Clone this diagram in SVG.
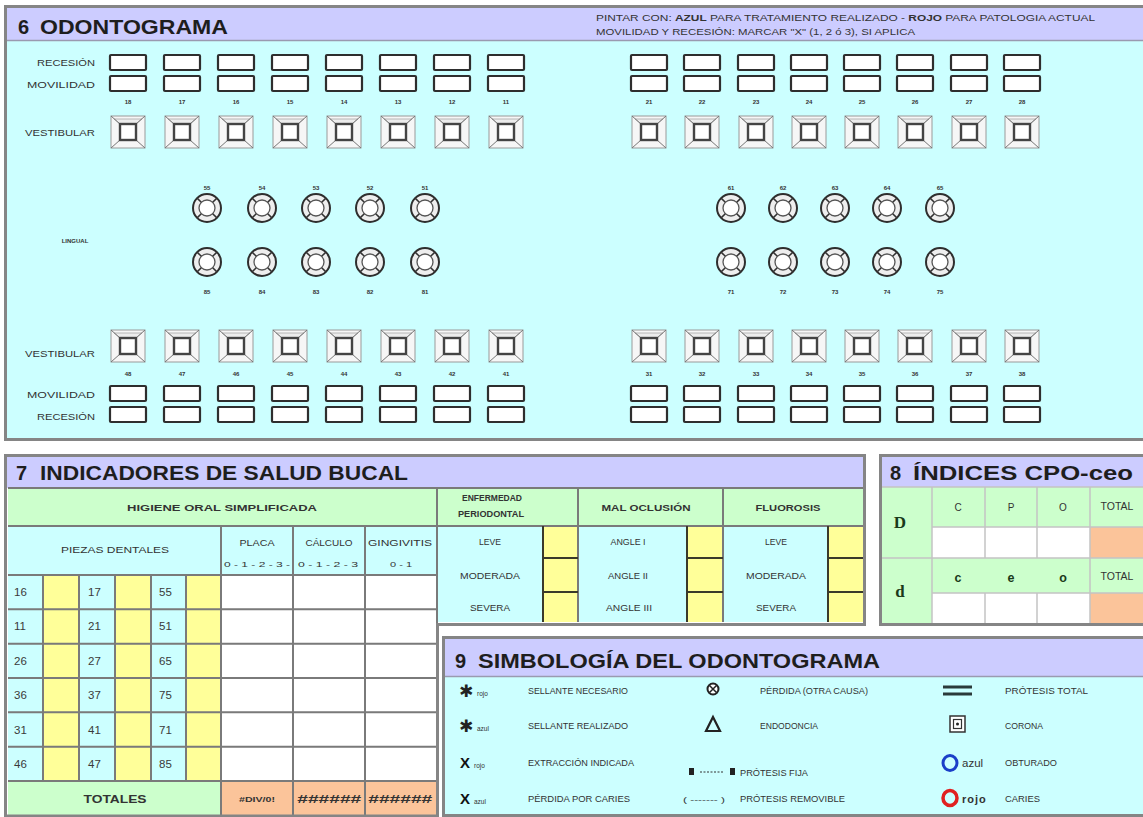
<svg xmlns="http://www.w3.org/2000/svg" xmlns:xlink="http://www.w3.org/1999/xlink" width="1143" height="817" viewBox="0 0 1143 817">
<style>
text{font-family:"Liberation Sans",Arial,sans-serif;fill:#333}
.ttl{font-weight:bold;font-size:20px;fill:#1e1e1e}
.lb{font-size:9.5px}
.tn{font-size:6px;font-weight:bold;text-anchor:middle;fill:#333}
.c{text-anchor:middle}
.r{text-anchor:end}
.b{font-weight:bold}
.num{font-size:11.5px;fill:#3a3a3a}
.gl{stroke:#7a7a7a;stroke-width:2;fill:none}
.dl{stroke:#3a3a2a;stroke-width:2;fill:none}
.ll{stroke:#c4c4c4;stroke-width:1.5;fill:none}
.frame{fill:none;stroke:#858585;stroke-width:3}
</style>
<defs>
<rect id="rb" x="0" y="0" width="36" height="15" rx="1" fill="#fff" stroke="#2e2e2e" stroke-width="2.2"/>
<g id="vt">
<rect x="-17" y="-16" width="34" height="32" fill="#f6f6f6" stroke="#9a9a9a" stroke-width="1"/>
<path d="M-14,-13 H14 L8,-8 H-8 Z" fill="#ececec" stroke="#aaa" stroke-width="0.8"/>
<path d="M-17,-16 L-8,-8 M17,-16 L8,-8 M-17,16 L-8,8 M17,16 L8,8" stroke="#777" stroke-width="1"/>
<rect x="-8" y="-8" width="16" height="16" fill="#fff" stroke="#444" stroke-width="2.4"/>
</g>
<g id="pt">
<circle r="14" fill="#eeeeee" stroke="#2e2e2e" stroke-width="2"/>
<circle r="8" fill="#fff" stroke="#555" stroke-width="1.3"/>
<path d="M5.7,5.7 L9.9,9.9 M-5.7,5.7 L-9.9,9.9 M5.7,-5.7 L9.9,-9.9 M-5.7,-5.7 L-9.9,-9.9" stroke="#333" stroke-width="1.5"/>
</g>
</defs>

<!-- ===== SECTION 6 ===== -->
<g id="sec6">
<rect x="5.5" y="6.5" width="1150" height="433" fill="#ccffff" stroke="#858585" stroke-width="3"/>
<rect x="7" y="8" width="1140" height="32" fill="#ccccff"/>
<line x1="7" y1="40.5" x2="1143" y2="40.5" stroke="#9a9ab0" stroke-width="1.5"/>
<text class="ttl" x="18" y="34" font-size="19">6</text>
<text class="ttl" x="40" y="34" font-size="19" textLength="188" lengthAdjust="spacingAndGlyphs">ODONTOGRAMA</text>
<text x="596" y="21" font-size="8.5" textLength="499" lengthAdjust="spacingAndGlyphs">PINTAR CON: <tspan class="b">AZUL</tspan> PARA  TRATAMIENTO REALIZADO -  <tspan class="b">ROJO</tspan> PARA PATOLOGIA ACTUAL</text>
<text x="596" y="35" font-size="8.5" textLength="319" lengthAdjust="spacingAndGlyphs">MOVILIDAD Y RECESIÓN: MARCAR "X" (1, 2 ó 3), SI APLICA</text>

<text class="lb r" x="95" y="66" textLength="58" lengthAdjust="spacingAndGlyphs">RECESIÓN</text>
<text class="lb r" x="95" y="88" textLength="68" lengthAdjust="spacingAndGlyphs">MOVILIDAD</text>
<text class="lb r" x="95" y="136" textLength="70" lengthAdjust="spacingAndGlyphs">VESTIBULAR</text>
<text class="tn" x="75" y="243" font-size="6.5">LINGUAL</text>
<text class="lb r" x="95" y="357" textLength="70" lengthAdjust="spacingAndGlyphs">VESTIBULAR</text>
<text class="lb r" x="95" y="398" textLength="68" lengthAdjust="spacingAndGlyphs">MOVILIDAD</text>
<text class="lb r" x="95" y="420" textLength="58" lengthAdjust="spacingAndGlyphs">RECESIÓN</text>
</g>

<!-- upper permanent teeth left -->
<g id="t18"><use href="#rb" x="110" y="55"/><use href="#rb" x="110" y="76"/><text class="tn" x="128" y="104">18</text><use href="#vt" x="128" y="132"/></g>
<g id="t17"><use href="#rb" x="164" y="55"/><use href="#rb" x="164" y="76"/><text class="tn" x="182" y="104">17</text><use href="#vt" x="182" y="132"/></g>
<g id="t16"><use href="#rb" x="218" y="55"/><use href="#rb" x="218" y="76"/><text class="tn" x="236" y="104">16</text><use href="#vt" x="236" y="132"/></g>
<g id="t15"><use href="#rb" x="272" y="55"/><use href="#rb" x="272" y="76"/><text class="tn" x="290" y="104">15</text><use href="#vt" x="290" y="132"/></g>
<g id="t14"><use href="#rb" x="326" y="55"/><use href="#rb" x="326" y="76"/><text class="tn" x="344" y="104">14</text><use href="#vt" x="344" y="132"/></g>
<g id="t13"><use href="#rb" x="380" y="55"/><use href="#rb" x="380" y="76"/><text class="tn" x="398" y="104">13</text><use href="#vt" x="398" y="132"/></g>
<g id="t12"><use href="#rb" x="434" y="55"/><use href="#rb" x="434" y="76"/><text class="tn" x="452" y="104">12</text><use href="#vt" x="452" y="132"/></g>
<g id="t11"><use href="#rb" x="488" y="55"/><use href="#rb" x="488" y="76"/><text class="tn" x="506" y="104">11</text><use href="#vt" x="506" y="132"/></g>
<!-- upper permanent teeth right -->
<g id="t21"><use href="#rb" x="631" y="55"/><use href="#rb" x="631" y="76"/><text class="tn" x="649" y="104">21</text><use href="#vt" x="649" y="132"/></g>
<g id="t22"><use href="#rb" x="684" y="55"/><use href="#rb" x="684" y="76"/><text class="tn" x="702" y="104">22</text><use href="#vt" x="702" y="132"/></g>
<g id="t23"><use href="#rb" x="738" y="55"/><use href="#rb" x="738" y="76"/><text class="tn" x="756" y="104">23</text><use href="#vt" x="756" y="132"/></g>
<g id="t24"><use href="#rb" x="791" y="55"/><use href="#rb" x="791" y="76"/><text class="tn" x="809" y="104">24</text><use href="#vt" x="809" y="132"/></g>
<g id="t25"><use href="#rb" x="844" y="55"/><use href="#rb" x="844" y="76"/><text class="tn" x="862" y="104">25</text><use href="#vt" x="862" y="132"/></g>
<g id="t26"><use href="#rb" x="897" y="55"/><use href="#rb" x="897" y="76"/><text class="tn" x="915" y="104">26</text><use href="#vt" x="915" y="132"/></g>
<g id="t27"><use href="#rb" x="951" y="55"/><use href="#rb" x="951" y="76"/><text class="tn" x="969" y="104">27</text><use href="#vt" x="969" y="132"/></g>
<g id="t28"><use href="#rb" x="1004" y="55"/><use href="#rb" x="1004" y="76"/><text class="tn" x="1022" y="104">28</text><use href="#vt" x="1022" y="132"/></g>

<!-- primary teeth -->
<g id="t55"><text class="tn" x="207" y="190">55</text><use href="#pt" x="207" y="208"/></g>
<g id="t54"><text class="tn" x="262" y="190">54</text><use href="#pt" x="262" y="208"/></g>
<g id="t53"><text class="tn" x="316" y="190">53</text><use href="#pt" x="316" y="208"/></g>
<g id="t52"><text class="tn" x="370" y="190">52</text><use href="#pt" x="370" y="208"/></g>
<g id="t51"><text class="tn" x="425" y="190">51</text><use href="#pt" x="425" y="208"/></g>
<g id="t61"><text class="tn" x="731" y="190">61</text><use href="#pt" x="731" y="208"/></g>
<g id="t62"><text class="tn" x="783" y="190">62</text><use href="#pt" x="783" y="208"/></g>
<g id="t63"><text class="tn" x="835" y="190">63</text><use href="#pt" x="835" y="208"/></g>
<g id="t64"><text class="tn" x="887" y="190">64</text><use href="#pt" x="887" y="208"/></g>
<g id="t65"><text class="tn" x="940" y="190">65</text><use href="#pt" x="940" y="208"/></g>
<g id="t85"><use href="#pt" x="207" y="262"/><text class="tn" x="207" y="294">85</text></g>
<g id="t84"><use href="#pt" x="262" y="262"/><text class="tn" x="262" y="294">84</text></g>
<g id="t83"><use href="#pt" x="316" y="262"/><text class="tn" x="316" y="294">83</text></g>
<g id="t82"><use href="#pt" x="370" y="262"/><text class="tn" x="370" y="294">82</text></g>
<g id="t81"><use href="#pt" x="425" y="262"/><text class="tn" x="425" y="294">81</text></g>
<g id="t71"><use href="#pt" x="731" y="262"/><text class="tn" x="731" y="294">71</text></g>
<g id="t72"><use href="#pt" x="783" y="262"/><text class="tn" x="783" y="294">72</text></g>
<g id="t73"><use href="#pt" x="835" y="262"/><text class="tn" x="835" y="294">73</text></g>
<g id="t74"><use href="#pt" x="887" y="262"/><text class="tn" x="887" y="294">74</text></g>
<g id="t75"><use href="#pt" x="940" y="262"/><text class="tn" x="940" y="294">75</text></g>

<!-- lower permanent teeth -->
<g id="t48"><use href="#vt" x="128" y="346"/><text class="tn" x="128" y="376">48</text><use href="#rb" x="110" y="386"/><use href="#rb" x="110" y="407"/></g>
<g id="t47"><use href="#vt" x="182" y="346"/><text class="tn" x="182" y="376">47</text><use href="#rb" x="164" y="386"/><use href="#rb" x="164" y="407"/></g>
<g id="t46"><use href="#vt" x="236" y="346"/><text class="tn" x="236" y="376">46</text><use href="#rb" x="218" y="386"/><use href="#rb" x="218" y="407"/></g>
<g id="t45"><use href="#vt" x="290" y="346"/><text class="tn" x="290" y="376">45</text><use href="#rb" x="272" y="386"/><use href="#rb" x="272" y="407"/></g>
<g id="t44"><use href="#vt" x="344" y="346"/><text class="tn" x="344" y="376">44</text><use href="#rb" x="326" y="386"/><use href="#rb" x="326" y="407"/></g>
<g id="t43"><use href="#vt" x="398" y="346"/><text class="tn" x="398" y="376">43</text><use href="#rb" x="380" y="386"/><use href="#rb" x="380" y="407"/></g>
<g id="t42"><use href="#vt" x="452" y="346"/><text class="tn" x="452" y="376">42</text><use href="#rb" x="434" y="386"/><use href="#rb" x="434" y="407"/></g>
<g id="t41"><use href="#vt" x="506" y="346"/><text class="tn" x="506" y="376">41</text><use href="#rb" x="488" y="386"/><use href="#rb" x="488" y="407"/></g>
<g id="t31"><use href="#vt" x="649" y="346"/><text class="tn" x="649" y="376">31</text><use href="#rb" x="631" y="386"/><use href="#rb" x="631" y="407"/></g>
<g id="t32"><use href="#vt" x="702" y="346"/><text class="tn" x="702" y="376">32</text><use href="#rb" x="684" y="386"/><use href="#rb" x="684" y="407"/></g>
<g id="t33"><use href="#vt" x="756" y="346"/><text class="tn" x="756" y="376">33</text><use href="#rb" x="738" y="386"/><use href="#rb" x="738" y="407"/></g>
<g id="t34"><use href="#vt" x="809" y="346"/><text class="tn" x="809" y="376">34</text><use href="#rb" x="791" y="386"/><use href="#rb" x="791" y="407"/></g>
<g id="t35"><use href="#vt" x="862" y="346"/><text class="tn" x="862" y="376">35</text><use href="#rb" x="844" y="386"/><use href="#rb" x="844" y="407"/></g>
<g id="t36"><use href="#vt" x="915" y="346"/><text class="tn" x="915" y="376">36</text><use href="#rb" x="897" y="386"/><use href="#rb" x="897" y="407"/></g>
<g id="t37"><use href="#vt" x="969" y="346"/><text class="tn" x="969" y="376">37</text><use href="#rb" x="951" y="386"/><use href="#rb" x="951" y="407"/></g>
<g id="t38"><use href="#vt" x="1022" y="346"/><text class="tn" x="1022" y="376">38</text><use href="#rb" x="1004" y="386"/><use href="#rb" x="1004" y="407"/></g>

<!-- ===== SECTION 7 ===== -->
<g id="sec7">
<rect x="7" y="457" width="856" height="31" fill="#ccccff"/>
<text class="ttl" x="16" y="480">7</text>
<text class="ttl" x="40" y="480" textLength="368" lengthAdjust="spacingAndGlyphs">INDICADORES DE SALUD BUCAL</text>
<!-- left table fills -->
<rect x="8" y="488" width="429" height="38" fill="#ccffcc"/>
<rect x="8" y="526" width="429" height="49" fill="#ccffff"/>
<rect x="8" y="575" width="213" height="206" fill="#ccffff"/>
<rect x="43" y="575" width="36" height="206" fill="#ffff99"/>
<rect x="115" y="575" width="36" height="206" fill="#ffff99"/>
<rect x="186" y="575" width="35" height="206" fill="#ffff99"/>
<rect x="221" y="575" width="216" height="206" fill="#ffffff"/>
<rect x="8" y="781" width="213" height="34" fill="#ccffcc"/>
<rect x="221" y="781" width="216" height="34" fill="#fbc49a"/>
<!-- middle table fills -->
<rect x="437" y="488" width="426" height="38" fill="#ccffcc"/>
<rect x="437" y="526" width="426" height="96" fill="#ccffff"/>
<rect x="543" y="526" width="35" height="96" fill="#ffff99"/>
<rect x="687" y="526" width="36" height="96" fill="#ffff99"/>
<rect x="828" y="526" width="35" height="96" fill="#ffff99"/>
<!-- grid -->
<path class="gl" d="M8,488 H863 M8,526 H863 M8,575 H437 M8,609.3 H437 M8,643.7 H437 M8,678 H437 M8,712.3 H437 M8,746.7 H437 M8,781 H437 M221,526 V815 M293,526 V815 M365,526 V815 M43,575 V781 M79,575 V781 M115,575 V781 M151,575 V781 M186,575 V781 M437,488 V815 M578,488 V622 M723,488 V622"/>
<path class="dl" d="M543,526 V622 M687,526 V622 M828,526 V622 M543,558 H578 M543,592 H578 M687,558 H723 M687,592 H723 M828,558 H863 M828,592 H863"/>
<path class="frame" d="M5.5,455.5 H864.5 V624.5 H437.5 V816 H5.5 Z"/>
<!-- texts -->
<text class="lb b c" x="222" y="511" textLength="190" lengthAdjust="spacingAndGlyphs">HIGIENE ORAL SIMPLIFICADA</text>
<text class="lb c" x="115" y="553" textLength="108" lengthAdjust="spacingAndGlyphs">PIEZAS DENTALES</text>
<text class="lb c" x="257" y="546" textLength="35" lengthAdjust="spacingAndGlyphs">PLACA</text>
<text class="lb c" x="329" y="546" textLength="47" lengthAdjust="spacingAndGlyphs">CÁLCULO</text>
<text class="lb c" x="400" y="546" textLength="64" lengthAdjust="spacingAndGlyphs">GINGIVITIS</text>
<text class="c" x="257" y="567" font-size="8" textLength="66" lengthAdjust="spacingAndGlyphs">0 - 1 - 2 - 3 -</text>
<text class="c" x="328" y="567" font-size="8" textLength="60" lengthAdjust="spacingAndGlyphs">0 - 1 - 2 - 3</text>
<text class="c" x="401" y="567" font-size="8" textLength="22" lengthAdjust="spacingAndGlyphs">0 - 1</text>
<g>
<text class="num" x="14" y="596">16</text><text class="num" x="88" y="596">17</text><text class="num" x="159" y="596">55</text>
<text class="num" x="14" y="630">11</text><text class="num" x="88" y="630">21</text><text class="num" x="159" y="630">51</text>
<text class="num" x="14" y="665">26</text><text class="num" x="88" y="665">27</text><text class="num" x="159" y="665">65</text>
<text class="num" x="14" y="699">36</text><text class="num" x="88" y="699">37</text><text class="num" x="159" y="699">75</text>
<text class="num" x="14" y="734">31</text><text class="num" x="88" y="734">41</text><text class="num" x="159" y="734">71</text>
<text class="num" x="14" y="768">46</text><text class="num" x="88" y="768">47</text><text class="num" x="159" y="768">85</text>
</g>
<text class="b c" x="115" y="803" font-size="10.5" textLength="63" lengthAdjust="spacingAndGlyphs">TOTALES</text>
<text class="b c" x="257" y="802" font-size="6.5" textLength="36" lengthAdjust="spacingAndGlyphs">#DIV/0!</text>
<text class="b c" x="329" y="803" font-size="11.5" font-style="italic" textLength="64" lengthAdjust="spacingAndGlyphs">######</text>
<text class="b c" x="400" y="803" font-size="11.5" font-style="italic" textLength="64" lengthAdjust="spacingAndGlyphs">######</text>
<text class="lb b c" x="492" y="501" textLength="60" lengthAdjust="spacingAndGlyphs">ENFERMEDAD</text>
<text class="lb b c" x="491" y="517" textLength="66" lengthAdjust="spacingAndGlyphs">PERIODONTAL</text>
<text class="lb b c" x="646" y="511" textLength="89" lengthAdjust="spacingAndGlyphs">MAL OCLUSIÓN</text>
<text class="lb b c" x="788" y="511" textLength="65" lengthAdjust="spacingAndGlyphs">FLUOROSIS</text>
<text class="lb c" x="490" y="545" textLength="22" lengthAdjust="spacingAndGlyphs">LEVE</text>
<text class="lb c" x="490" y="579" textLength="60" lengthAdjust="spacingAndGlyphs">MODERADA</text>
<text class="lb c" x="490" y="611" textLength="40" lengthAdjust="spacingAndGlyphs">SEVERA</text>
<text class="lb c" x="628" y="545" textLength="35" lengthAdjust="spacingAndGlyphs">ANGLE I</text>
<text class="lb c" x="628" y="579" textLength="40" lengthAdjust="spacingAndGlyphs">ANGLE II</text>
<text class="lb c" x="629" y="611" textLength="46" lengthAdjust="spacingAndGlyphs">ANGLE III</text>
<text class="lb c" x="776" y="545" textLength="22" lengthAdjust="spacingAndGlyphs">LEVE</text>
<text class="lb c" x="776" y="579" textLength="60" lengthAdjust="spacingAndGlyphs">MODERADA</text>
<text class="lb c" x="776" y="611" textLength="40" lengthAdjust="spacingAndGlyphs">SEVERA</text>
</g>

<!-- ===== SECTION 8 ===== -->
<g id="sec8">
<rect x="882" y="457" width="265" height="30" fill="#ccccff"/>
<rect x="882" y="487" width="265" height="136" fill="#ccffcc"/>
<rect x="932" y="527" width="158" height="31" fill="#fff"/>
<rect x="1090" y="527" width="57" height="31" fill="#fbc49a"/>
<rect x="932" y="593" width="158" height="30" fill="#fff"/>
<rect x="1090" y="593" width="57" height="30" fill="#fbc49a"/>
<path class="ll" d="M882,487 H1147 M932,527 H1147 M882,558 H1147 M932,593 H1147 M932,487 V623 M985,487 V558 M1037,487 V558 M985,593 V623 M1037,593 V623 M1090,487 V623"/>
<rect class="frame" x="880.5" y="455.5" width="270" height="169"/>
<text class="ttl" x="890" y="480">8</text>
<text class="ttl" x="913" y="480" textLength="220" lengthAdjust="spacingAndGlyphs">ÍNDICES CPO-ceo</text>
<text class="c" x="958" y="511" font-size="10">C</text>
<text class="c" x="1011" y="511" font-size="10">P</text>
<text class="c" x="1063" y="511" font-size="10">O</text>
<text class="c" x="1117" y="510" font-size="10.5">TOTAL</text>
<text class="c b" x="900" y="528" font-size="17" style="font-family:'Liberation Serif',serif;fill:#1a3a1a">D</text>
<text class="c b" x="900" y="597" font-size="17" style="font-family:'Liberation Serif',serif;fill:#1a3a1a">d</text>
<text class="c b" x="958" y="582" font-size="12.5" style="fill:#1a3a1a">c</text>
<text class="c b" x="1011" y="582" font-size="12.5" style="fill:#1a3a1a">e</text>
<text class="c b" x="1063" y="582" font-size="12.5" style="fill:#1a3a1a">o</text>
<text class="c" x="1117" y="580" font-size="10.5">TOTAL</text>
</g>

<!-- ===== SECTION 9 ===== -->
<g id="sec9">
<rect x="443.5" y="637.5" width="710" height="178" fill="#ccffff" stroke="#858585" stroke-width="3"/>
<rect x="445" y="639" width="700" height="37" fill="#ccccff"/>
<line x1="445" y1="676.5" x2="1143" y2="676.5" stroke="#9a9ab0" stroke-width="1.5"/>
<text class="ttl" x="455" y="668">9</text>
<text class="ttl" x="478" y="668" textLength="402" lengthAdjust="spacingAndGlyphs">SIMBOLOGÍA DEL ODONTOGRAMA</text>
<!-- column 1 -->
<text x="459" y="697" font-size="17" style="font-family:'DejaVu Sans',sans-serif;fill:#222">✱</text>
<text x="477" y="696" font-size="6.5">rojo</text>
<text class="lb" x="528" y="694" textLength="100" lengthAdjust="spacingAndGlyphs">SELLANTE NECESARIO</text>
<text x="459" y="732" font-size="17" style="font-family:'DejaVu Sans',sans-serif;fill:#222">✱</text>
<text x="477" y="731" font-size="6.5">azul</text>
<text class="lb" x="528" y="729" textLength="100" lengthAdjust="spacingAndGlyphs">SELLANTE REALIZADO</text>
<text class="b" x="460" y="768" font-size="15" style="fill:#111">X</text>
<text x="474" y="768" font-size="6.5">rojo</text>
<text class="lb" x="528" y="766" textLength="106" lengthAdjust="spacingAndGlyphs">EXTRACCIÓN INDICADA</text>
<text class="b" x="460" y="804" font-size="15" style="fill:#111">X</text>
<text x="474" y="804" font-size="6.5">azul</text>
<text class="lb" x="528" y="802" textLength="102" lengthAdjust="spacingAndGlyphs">PÉRDIDA POR CARIES</text>
<!-- column 2 -->
<circle cx="713" cy="689" r="5.5" fill="#fff" stroke="#222" stroke-width="2"/>
<path d="M709.5,685.5 L716.5,692.5 M716.5,685.5 L709.5,692.5" stroke="#222" stroke-width="1.5"/>
<text class="lb" x="760" y="694" textLength="108" lengthAdjust="spacingAndGlyphs">PÉRDIDA (OTRA CAUSA)</text>
<path d="M713,717 L720,731 L706,731 Z" fill="none" stroke="#222" stroke-width="2.2"/>
<text class="lb" x="760" y="729" textLength="58" lengthAdjust="spacingAndGlyphs">ENDODONCIA</text>
<rect x="689" y="768" width="5" height="7" fill="#222"/>
<line x1="700" y1="772" x2="724" y2="772" stroke="#333" stroke-width="1" stroke-dasharray="2,1.5"/>
<rect x="730" y="768" width="5" height="7" fill="#222"/>
<text class="lb" x="740" y="776" textLength="68" lengthAdjust="spacingAndGlyphs">PRÓTESIS FIJA</text>
<text x="683" y="802" font-size="8" textLength="42" lengthAdjust="spacingAndGlyphs">( ------- )</text>
<text class="lb" x="740" y="802" textLength="105" lengthAdjust="spacingAndGlyphs">PRÓTESIS REMOVIBLE</text>
<!-- column 3 -->
<path d="M943,687 H972 M943,694 H972" stroke="#2a3a3a" stroke-width="3"/>
<text class="lb" x="1005" y="694" textLength="83" lengthAdjust="spacingAndGlyphs">PRÓTESIS TOTAL</text>
<rect x="950" y="716" width="15" height="16" fill="#fff" stroke="#333" stroke-width="1.5"/>
<rect x="953.5" y="719.5" width="8" height="9" fill="none" stroke="#333" stroke-width="1.2"/>
<circle cx="957.5" cy="724" r="1.5" fill="#222"/>
<text class="lb" x="1005" y="729" textLength="38" lengthAdjust="spacingAndGlyphs">CORONA</text>
<ellipse cx="950" cy="763" rx="7" ry="7.5" fill="none" stroke="#1a3fc8" stroke-width="3"/>
<text x="962" y="767" font-size="11.5">azul</text>
<text class="lb" x="1005" y="766" textLength="52" lengthAdjust="spacingAndGlyphs">OBTURADO</text>
<ellipse cx="950" cy="798" rx="7" ry="7.5" fill="none" stroke="#e02020" stroke-width="3.5"/>
<text class="b" x="962" y="803" font-size="11" letter-spacing="1">rojo</text>
<text class="lb" x="1005" y="802" textLength="35" lengthAdjust="spacingAndGlyphs">CARIES</text>
</g>
<g id="connectors"></g>
</svg>
